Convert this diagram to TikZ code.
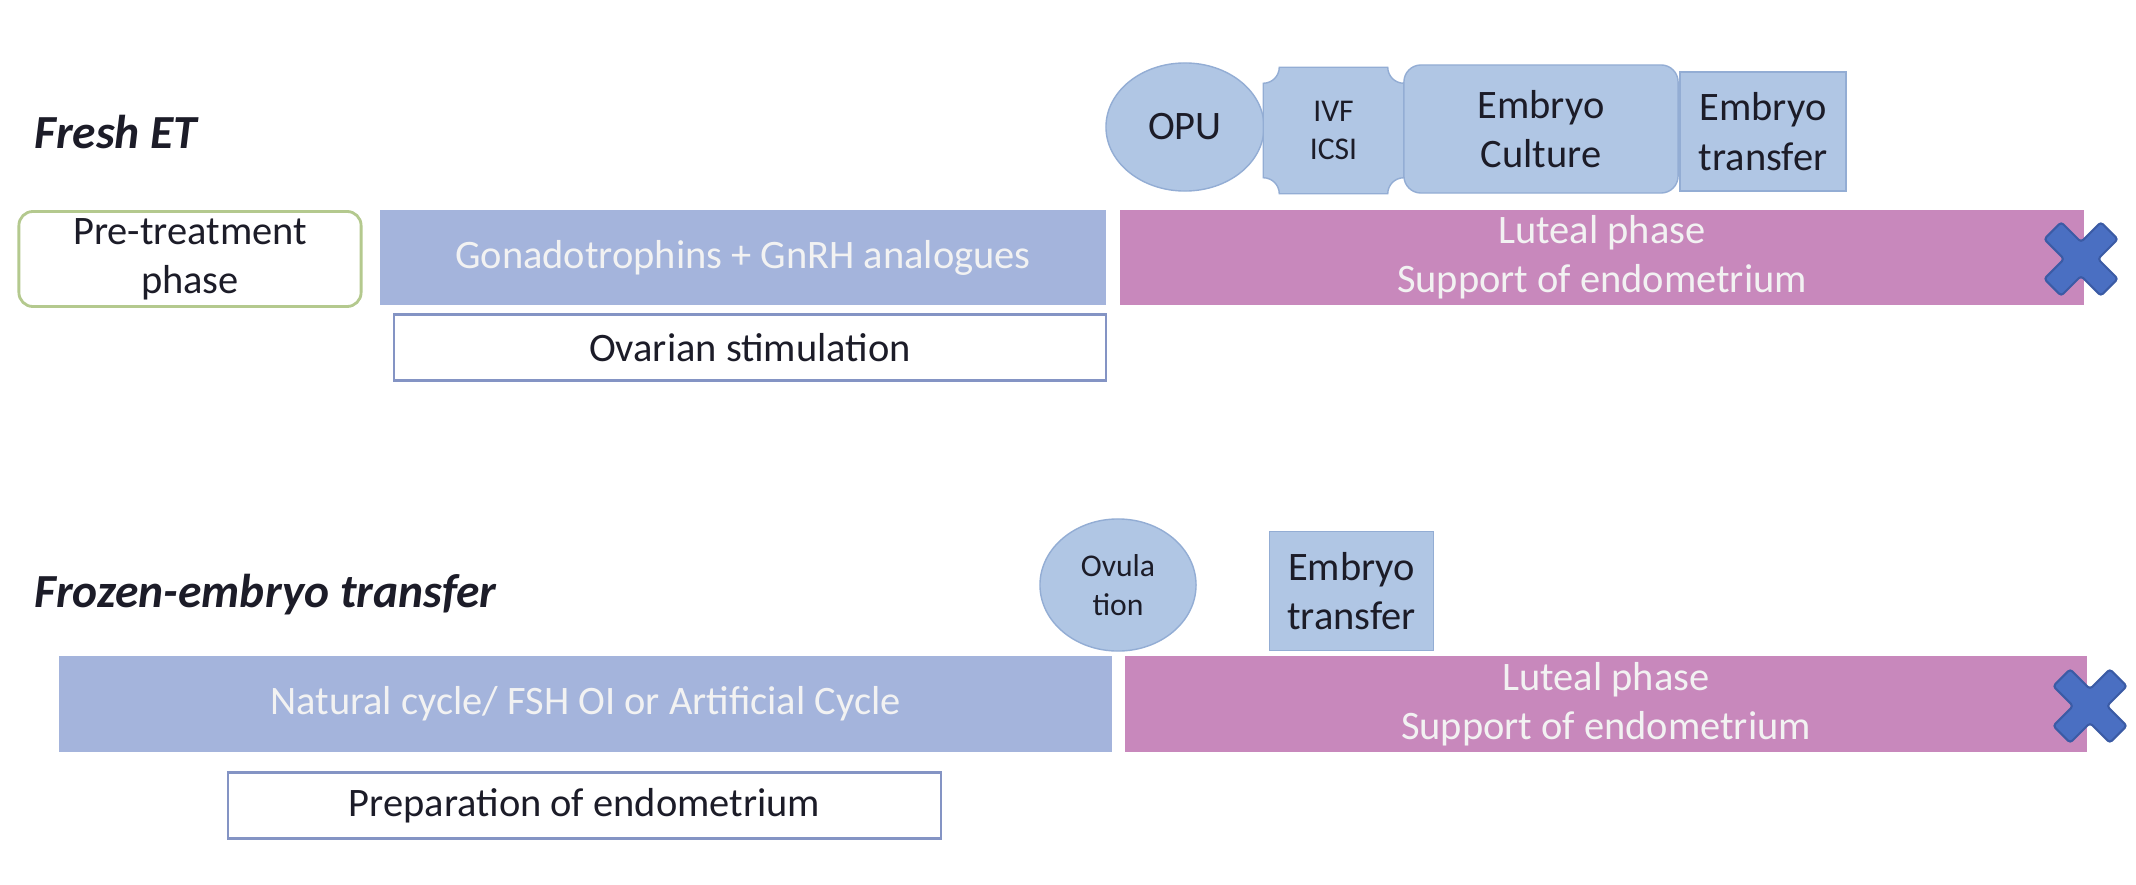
\documentclass[tikz,border=0pt]{standalone}
\usepackage{fontspec}
\setmainfont{Carlito}
\usetikzlibrary{shapes.geometric}
\usetikzlibrary{calc}
\definecolor{stepblue}{HTML}{B0C6E4}
\definecolor{stepedge}{HTML}{93ADD4}
\definecolor{barblue}{HTML}{A4B4DC}
\definecolor{barpink}{HTML}{C888BC}
\definecolor{crossblue}{HTML}{4A6FC2}
\definecolor{crossedge}{HTML}{3B5BA5}
\definecolor{pregreen}{HTML}{B4C98E}
\definecolor{captionedge}{HTML}{8494C4}
\definecolor{inktext}{HTML}{1C1C28}
\tikzstyle{bodyfont}=[font=\fontsize{11.5}{14}\selectfont]
\tikzstyle{rowtitle}=[anchor=west,inner sep=0pt,text=inktext,font=\fontsize{13.5}{16}\selectfont\bfseries\itshape]
\tikzstyle{phasebar}=[bodyfont,inner sep=0pt,align=center,minimum height=0.95cm,text=white!95!black]
\tikzstyle{bluebar}=[phasebar,fill=barblue]
\tikzstyle{pinkbar}=[phasebar,fill=barpink]
\tikzstyle{captionbox}=[bodyfont,draw=captionedge,line width=0.6pt,fill=white,inner sep=0pt,minimum height=0.66cm,text=inktext]
\tikzstyle{pretreatbox}=[bodyfont,draw=pregreen,line width=0.8pt,rounded corners=0.14cm,fill=white,inner sep=0pt,align=center,minimum width=3.42cm,minimum height=0.95cm,text=inktext]
\tikzstyle{stepbox}=[bodyfont,fill=stepblue,draw=stepedge,line width=0.4pt,inner sep=0pt,align=center,text=inktext]
\tikzstyle{stepoval}=[stepbox,ellipse]
\tikzstyle{smallstep}=[font=\fontsize{9}{11}\selectfont]
\tikzstyle{crossmark}=[fill=crossblue,draw=crossedge,line width=0.6pt,rounded corners=0.03cm]
\newcommand{\drawcross}[1]{% Syntax: {x,y} centre of the cross
\draw[crossmark,shift={(#1)},rotate=45] (12,12) -- (40,12) -- (40,-12) -- (12,-12) -- (12,-40) -- (-12,-40) -- (-12,-12) -- (-40,-12) -- (-40,12) -- (-12,12) -- (-12,40) -- (12,40) -- cycle;
}
\newcommand{\drawplaque}[1]{% concave corners round node #1
\draw[fill=stepblue,draw=stepedge,line width=0.4pt] ($(#1.north west)+(16,0)$) -- ($(#1.north east)+(-16,0)$)
  .. controls ($(#1.north east)+(-16,8.8)$) and ($(#1.north east)+(-8.8,16)$) .. ($(#1.north east)+(0,16)$)
  -- ($(#1.south east)+(0,-16)$)
  .. controls ($(#1.south east)+(-8.8,-16)$) and ($(#1.south east)+(-16,-8.8)$) .. ($(#1.south east)+(-16,0)$)
  -- ($(#1.south west)+(16,0)$)
  .. controls ($(#1.south west)+(16,-8.8)$) and ($(#1.south west)+(8.8,-16)$) .. ($(#1.south west)+(0,-16)$)
  -- ($(#1.north west)+(0,16)$)
  .. controls ($(#1.north west)+(8.8,16)$) and ($(#1.north west)+(16,8.8)$) .. cycle;
}

\begin{document}
\begin{tikzpicture}[x=0.01cm,y=-0.01cm]
\useasboundingbox (0,0) rectangle (2136,885);
% fresh ET
\node[rowtitle] (freshlbl) at (34,132) {Fresh ET};
\node[pretreatbox] (pretreat) at (190,259) {Pre-treatment\\phase};
\node[bluebar,minimum width=7.26cm] (gona) at (743,257.5) {Gonadotrophins + GnRH analogues};
\node[captionbox,minimum width=7.12cm] (ovstim) at (750,347.5) {Ovarian stimulation};
\node[pinkbar,minimum width=9.64cm] (lutealA) at (1602,257.5) {Luteal phase\\Support of endometrium};
\drawcross{2081,259}
\node[stepoval,minimum width=1.58cm,minimum height=1.28cm] (opu) at (1185,127) {OPU};
\node[inner sep=0pt,minimum width=1.39cm,minimum height=1.25cm] (ivf) at (1333.5,130.5) {};
\drawplaque{ivf}
\node[smallstep,align=center,text=inktext] (ivftxt) at (ivf) {IVF\\ICSI};
\node[stepbox,rounded corners=0.17cm,minimum width=2.74cm,minimum height=1.28cm] (culture) at (1541,129) {Embryo\\Culture};
\node[stepbox,minimum width=1.66cm,minimum height=1.19cm] (transferA) at (1763,131.5) {Embryo\\transfer};
% frozen-embryo transfer
\node[rowtitle] (frozenlbl) at (34,595) {Frozen-embryo transfer};
\node[bluebar,minimum width=10.53cm] (natural) at (585.5,704) {Natural cycle/ FSH OI or Artificial Cycle};
\node[captionbox,minimum width=7.13cm] (prep) at (584.5,805.5) {Preparation of endometrium};
\node[pinkbar,minimum width=9.62cm] (lutealB) at (1606,704) {Luteal phase\\Support of endometrium};
\drawcross{2090,706}
\node[stepoval,smallstep,minimum width=1.56cm,minimum height=1.32cm] (ovul) at (1118,585) {Ovula\\tion};
\node[stepbox,minimum width=1.64cm,minimum height=1.19cm] (transferB) at (1351.5,591) {Embryo\\transfer};
\end{tikzpicture}
\end{document}
